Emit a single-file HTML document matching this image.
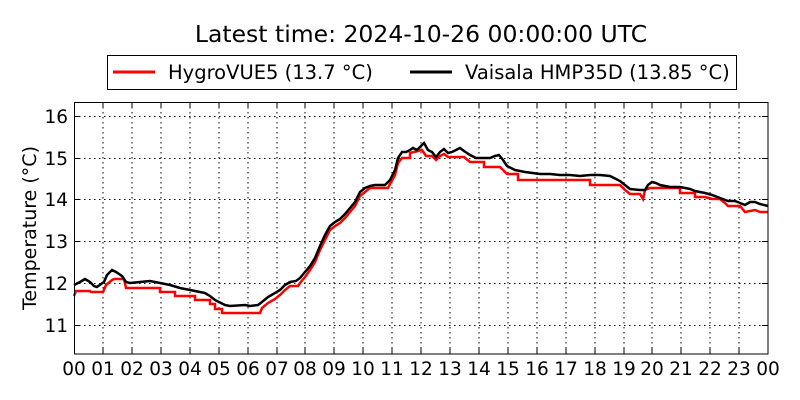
<!DOCTYPE html>
<html><head><style>body{margin:0;background:#fff}svg{display:block}text{font-family:"DejaVu Sans","Liberation Sans",sans-serif}</style></head><body>
<svg width="800" height="400" viewBox="0 0 800 400">
<text x="421" y="42" font-size="23.5" text-anchor="middle">Latest time: 2024-10-26 00:00:00 UTC</text>
<rect x="107.5" y="55.5" width="629" height="34" fill="#fff" stroke="#000" stroke-width="1"/>
<line x1="113" y1="72" x2="155" y2="72" stroke="red" stroke-width="3"/>
<text x="168" y="79" font-size="19.5">HygroVUE5 (13.7 °C)</text>
<line x1="410" y1="72" x2="452" y2="72" stroke="#000" stroke-width="3"/>
<text x="465" y="79" font-size="19.5">Vaisala HMP35D (13.85 °C)</text>
<g stroke="#000" stroke-width="1" stroke-dasharray="1.5,3.5" fill="none">
<path d="M74 116.5H768M74 158.5H768M74 199.5H768M74 241.5H768M74 283.5H768M74 325.5H768"/>
<path d="M103 102V354M132 102V354M161 102V354M190 102V354M219 102V354M248 102V354M277 102V354M305 102V354M334 102V354M363 102V354M392 102V354M421 102V354M450 102V354M479 102V354M508 102V354M537 102V354M566 102V354M595 102V354M624 102V354M652 102V354M681 102V354M710 102V354M739 102V354"/>
</g>
<g stroke="#000" stroke-width="1">
<path d="M74 116.5h6M74 158.5h6M74 199.5h6M74 241.5h6M74 283.5h6M74 325.5h6M768 116.5h-6M768 158.5h-6M768 199.5h-6M768 241.5h-6M768 283.5h-6M768 325.5h-6"/>
<path d="M103 354v-6M132 354v-6M161 354v-6M190 354v-6M219 354v-6M248 354v-6M277 354v-6M305 354v-6M334 354v-6M363 354v-6M392 354v-6M421 354v-6M450 354v-6M479 354v-6M508 354v-6M537 354v-6M566 354v-6M595 354v-6M624 354v-6M652 354v-6M681 354v-6M710 354v-6M739 354v-6"/>
<path d="M103 102v6M132 102v6M161 102v6M190 102v6M219 102v6M248 102v6M277 102v6M305 102v6M334 102v6M363 102v6M392 102v6M421 102v6M450 102v6M479 102v6M508 102v6M537 102v6M566 102v6M595 102v6M624 102v6M652 102v6M681 102v6M710 102v6M739 102v6"/>
</g>
<polyline fill="none" stroke="red" stroke-width="2.5" points="74,296 76,291 90,291 91,292 103,292 106,285 112,280 114,279 124,279 126,288 160,288 160,292 175,292 175,296 195,296 195,300 210,300 210,304 215,304 215,309 222,309 222,313 260,313 262,308 268,303 275,299 280,295 285,290 290,286 298,286 300,283 305,277 310,270 315,262 320,250 325,240 330,230 335,226 340,223 345,218 350,212 355,206 360,196 365,192 370,188 388,188 390,184 395,175 398,163 402,158 410,158 410,153 422,150 426,156 432,156 436,160 440,156 444,154 448,157 460,157 464,157 470,162 484,162 484,167 500,167 503,170 507,174 518,174 518,180 590,180 590,185 610,185 620,185 625,190 630,194 640,194 643,199 645,190 650,188 680,188 680,193 695,193 695,197 705,197 712,199 720,199 725,203 728,206 740,206 745,212 755,210 760,212 768,212"/>
<polyline fill="none" stroke="#000" stroke-width="2.5" points="74,285 80,282 85,279 90,282 94,286 97,287 101,284 104,282 107,275 112,270 116,272 122,276 126,282 130,283 140,282 150,281 160,283 170,285 180,288 190,290 200,292 205,293 210,296 215,300 225,305 230,306 245,305 250,306 258,305 262,302 268,297 275,293 280,290 285,285 290,282 296,281 300,278 305,272 310,266 315,258 320,246 325,235 330,226 335,222 340,219 345,214 350,208 355,202 360,192 365,188 370,186 375,185 385,185 390,180 395,170 398,158 402,152 406,152 410,150 413,148 417,150 420,147 424,143 428,150 432,152 436,157 440,152 444,149 448,153 452,152 456,150 460,148 464,151 470,155 476,158 480,158 490,158 495,156 499,155 503,160 507,166 515,170 525,172 540,174 550,174 560,175 570,175 580,176 590,175 600,175 610,176 620,181 625,185 630,189 640,190 645,190 648,185 652,182 656,183 660,185 670,187 680,187 690,189 695,191 705,193 712,195 720,198 728,201 735,201 740,203 745,205 750,202 755,202 760,204 768,206"/>
<rect x="74.5" y="102.5" width="693.5" height="251.5" fill="none" stroke="#000" stroke-width="1"/>
<g font-size="18.5" text-anchor="end">
<text x="68" y="123">16</text><text x="68" y="165">15</text><text x="68" y="206">14</text><text x="68" y="248">13</text><text x="68" y="290">12</text><text x="68" y="332">11</text>
</g>
<g font-size="18.5" text-anchor="middle">
<text x="74" y="375">00</text><text x="103" y="375">01</text><text x="132" y="375">02</text><text x="161" y="375">03</text><text x="190" y="375">04</text><text x="219" y="375">05</text><text x="248" y="375">06</text><text x="277" y="375">07</text><text x="305" y="375">08</text><text x="334" y="375">09</text><text x="363" y="375">10</text><text x="392" y="375">11</text><text x="421" y="375">12</text><text x="450" y="375">13</text><text x="479" y="375">14</text><text x="508" y="375">15</text><text x="537" y="375">16</text><text x="566" y="375">17</text><text x="595" y="375">18</text><text x="624" y="375">19</text><text x="652" y="375">20</text><text x="681" y="375">21</text><text x="710" y="375">22</text><text x="739" y="375">23</text><text x="768" y="375">00</text>
</g>
<text transform="translate(36,228) rotate(-90)" font-size="19" text-anchor="middle">Temperature (°C)</text>
</svg>
</body></html>
